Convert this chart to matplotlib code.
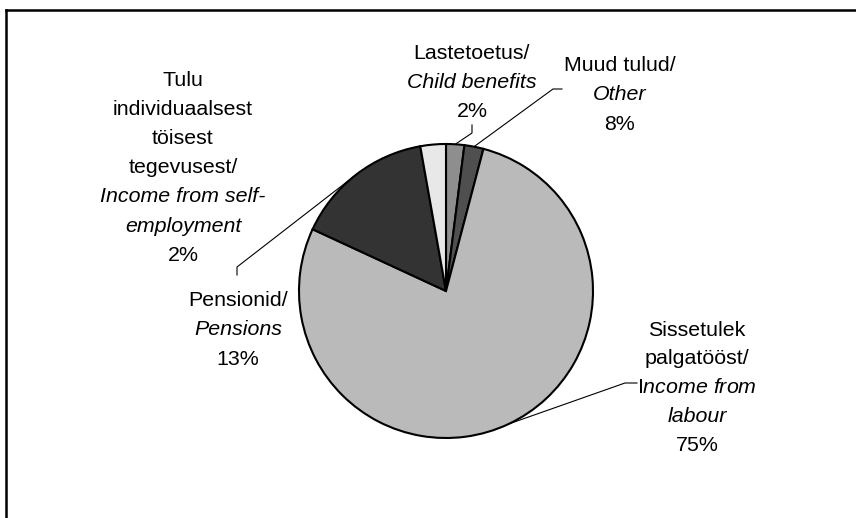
import numpy as np
import matplotlib.pyplot as plt
from matplotlib.lines import Line2D

plt.rcParams['font.family'] = ['Liberation Sans', 'DejaVu Sans']
plt.rcParams['mathtext.fontset'] = 'custom'
plt.rcParams['mathtext.rm'] = 'Liberation Sans'
plt.rcParams['mathtext.it'] = 'Liberation Sans:italic'

# slices clockwise from 12 o'clock (sizes as drawn)
categories = ["Lastetoetus", "Muud tulud", "Sissetulek palgatööst", "Pensionid", "Tulu individuaalsest töisest tegevusest"]
values = [2.0, 2.1, 77.8, 15.3, 2.8]
colors = ["#8e8e8e", "#4f4f4f", "#bababa", "#333333", "#e8e8e8"]

# label text lines (text, italic)
label_lines = [
    [("Lastetoetus/", False), ("Child benefits", True), ("2%", False)],
    [("Muud tulud/", False), ("Other", True), ("8%", False)],
    [("Sissetulek", False), ("palgatööst/", False), (r"I$\it{ncome\ from}$", False),
     ("labour", True), ("75%", False)],
    [("Pensionid/", False), ("Pensions", True), ("13%", False)],
    [("Tulu", False), ("individuaalsest", False), ("töisest", False), ("tegevusest/", False),
     ("Income from self-", True), ("employment", True), ("2%", False)],
]

W, H = 856, 518
fig = plt.figure(figsize=(W / 100, H / 100), dpi=100)
ax = fig.add_axes([0, 0, 1, 1])

cx, cy, R = 446, H - 291, 147
wedges, _ = ax.pie(values, colors=colors, startangle=90, counterclock=False,
                   center=(cx, cy), radius=R,
                   wedgeprops=dict(edgecolor="black", linewidth=1.5))
ax.set_xlim(0, W)
ax.set_ylim(0, H)
ax.axis("off")

# label placement: (x center, first line center y in image px, line step)
label_pos = [(472, 51, 29), (620, 63, 29.5), (697, 328, 28.8), (238, 298, 29.5), (183, 78, 29.2)]
fs = 15.4
for lines, (lx, ly, step) in zip(label_lines, label_pos):
    for i, (txt, it) in enumerate(lines):
        y = H - (ly + i * step) - 7.7
        ax.text(lx, y, txt, ha="center", va="baseline", fontsize=fs,
                style="italic" if it else "normal")

# leader lines: elbow points (image px) then to wedge edge
leaders = {
    0: [(472, 125), (472, 133)],
    1: [(562, 89), (553, 89)],
    2: [(637, 383), (625, 383)],
    3: [(237, 275), (237, 267)],
}
for idx, pts in leaders.items():
    w = wedges[idx]
    mid = np.deg2rad((w.theta1 + w.theta2) / 2)
    ex, ey = cx + R * np.cos(mid), cy + R * np.sin(mid)
    xs = [p[0] for p in pts] + [ex]
    ys = [H - p[1] for p in pts] + [ey]
    ax.plot(xs, ys, color="black", lw=0.8, zorder=0.5)

# partial frame (top and left edges)
fig.add_artist(Line2D([6 / W, 1], [1 - 10 / H, 1 - 10 / H], color="black", lw=1.8))
fig.add_artist(Line2D([6 / W, 6 / W], [0, 1 - 10 / H], color="black", lw=1.8))

fig.savefig("out.png", dpi=100)
